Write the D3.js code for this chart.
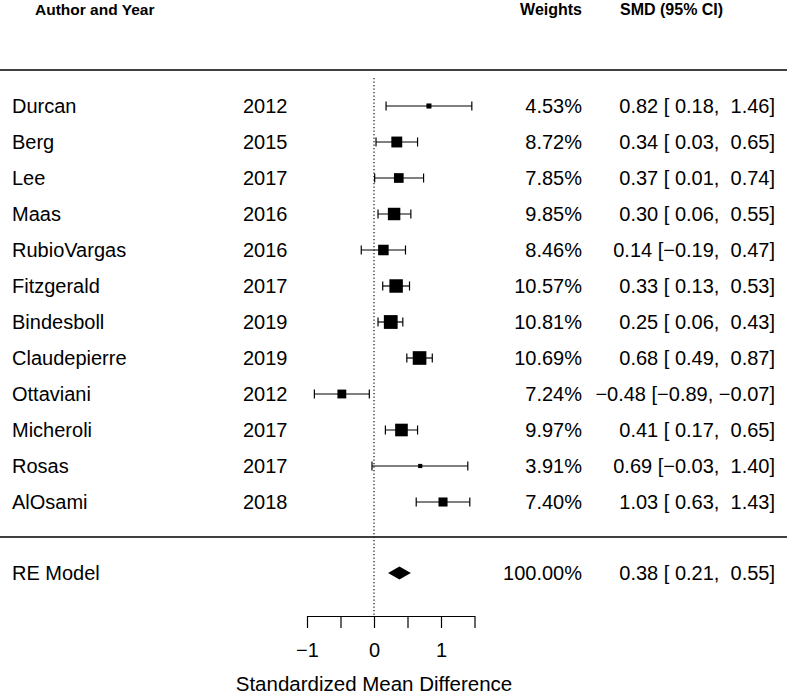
<!DOCTYPE html>
<html><head><meta charset="utf-8">
<script src="https://cdn.jsdelivr.net/npm/d3@7"></script>
<style>
body{margin:0;background:#fff;}
svg text{font-family:"Liberation Sans",Arial,Helvetica,sans-serif;fill:#000;white-space:pre;}
</style></head>
<body><svg id="c" width="787" height="696"></svg>
<script>
const authors = ["Durcan","Berg","Lee","Maas","RubioVargas","Fitzgerald","Bindesboll","Claudepierre","Ottaviani","Micheroli","Rosas","AlOsami"];
const years = [2012,2015,2017,2016,2016,2017,2019,2019,2012,2017,2017,2018];
const weights = [4.53,8.72,7.85,9.85,8.46,10.57,10.81,10.69,7.24,9.97,3.91,7.40];
const smd = [0.82,0.34,0.37,0.30,0.14,0.33,0.25,0.68,-0.48,0.41,0.69,1.03];
const ciLow = [0.18,0.03,0.01,0.06,-0.19,0.13,0.06,0.49,-0.89,0.17,-0.03,0.63];
const ciHigh = [1.46,0.65,0.74,0.55,0.47,0.53,0.43,0.87,-0.07,0.65,1.40,1.43];
const reModel = {label:"RE Model", weight:100.00, est:0.38, lb:0.21, ub:0.55};
const axisTicks = [-1,-0.5,0,0.5,1,1.5];
const axisLabels = [-1,0,1];
const headers = {left:"Author and Year", weights:"Weights", smd:"SMD (95% CI)"};
const xTitle = "Standardized Mean Difference";

const svg = d3.select("#c");
const x = d3.scaleLinear().domain([-1,1.5]).range([307,474.5]);
const y = d3.scaleLinear().domain([0,authors.length-1]).range([106,502]);
const sz = d3.scaleLinear().domain([d3.min(weights),d3.max(weights)]).range([4.2,13.8]);

const fmtNum = v => { const s = Math.abs(v).toFixed(2); return (v<0?"\u2212":" ")+s; };
const fmtCI = (e,l,u) => (e<0?"\u2212":"")+Math.abs(e).toFixed(2)+" ["+fmtNum(l)+", "+fmtNum(u)+"]";

// headers
svg.append("text").attr("x",35).attr("y",15).attr("font-size",15.5).attr("font-weight","bold").text(headers.left);
svg.append("text").attr("x",582).attr("y",15).attr("font-size",16).attr("font-weight","bold").attr("text-anchor","end").text(headers.weights);
svg.append("text").attr("x",620).attr("y",15).attr("font-size",16).attr("font-weight","bold").text(headers.smd);

// horizontal rules
[70,537].forEach(yy=>svg.append("line").attr("x1",0).attr("x2",787).attr("y1",yy).attr("y2",yy).attr("stroke","#000").attr("stroke-width",1.5));

// reference line
svg.append("line").attr("x1",x(0)).attr("x2",x(0)).attr("y1",78).attr("y2",616)
  .attr("stroke","#222").attr("stroke-width",1.3).attr("stroke-dasharray","1.3,2.2");

const idx = d3.range(authors.length);
const g = svg.append("g");
const rows = g.selectAll("g.row").data(idx).join("g").attr("class","row");
rows.append("text").attr("x",12).attr("y",i=>y(i)+7).attr("font-size",20).text(i=>authors[i]);
rows.append("text").attr("x",243).attr("y",i=>y(i)+7).attr("font-size",20).text(i=>years[i]);
rows.append("text").attr("x",582).attr("y",i=>y(i)+7).attr("font-size",20).attr("text-anchor","end").text(i=>weights[i].toFixed(2)+"%");
rows.append("text").attr("x",775).attr("y",i=>y(i)+7).attr("font-size",20).attr("text-anchor","end").text(i=>fmtCI(smd[i],ciLow[i],ciHigh[i]));
// CI lines
rows.append("line").attr("x1",i=>x(ciLow[i])).attr("x2",i=>x(ciHigh[i])).attr("y1",i=>y(i)).attr("y2",i=>y(i)).attr("stroke","#000").attr("stroke-width",1.2);
rows.append("line").attr("x1",i=>x(ciLow[i])).attr("x2",i=>x(ciLow[i])).attr("y1",i=>y(i)-4.5).attr("y2",i=>y(i)+4.5).attr("stroke","#000").attr("stroke-width",1.2);
rows.append("line").attr("x1",i=>x(ciHigh[i])).attr("x2",i=>x(ciHigh[i])).attr("y1",i=>y(i)-4.5).attr("y2",i=>y(i)+4.5).attr("stroke","#000").attr("stroke-width",1.2);
rows.append("rect").attr("x",i=>x(smd[i])-sz(weights[i])/2).attr("y",i=>y(i)-sz(weights[i])/2)
  .attr("width",i=>sz(weights[i])).attr("height",i=>sz(weights[i])).attr("fill","#000");

// RE model
const yRE = 573;
svg.append("text").attr("x",12).attr("y",yRE+7).attr("font-size",20).text(reModel.label);
svg.append("text").attr("x",582).attr("y",yRE+7).attr("font-size",20).attr("text-anchor","end").text(reModel.weight.toFixed(2)+"%");
svg.append("text").attr("x",775).attr("y",yRE+7).attr("font-size",20).attr("text-anchor","end").text(fmtCI(reModel.est,reModel.lb,reModel.ub));
svg.append("polygon").attr("points",[[x(reModel.lb),yRE],[x(reModel.est),yRE-6.5],[x(reModel.ub),yRE],[x(reModel.est),yRE+6.5]].map(p=>p.join(",")).join(" ")).attr("fill","#000");

// axis
const ax = svg.append("g").attr("transform","translate(0,616)")
  .call(d3.axisBottom(x).tickValues(axisTicks).tickSize(12).tickSizeOuter(0).tickFormat(d=>axisLabels.includes(d)?d3.format("")(d).replace("-","\u2212"):""));
ax.select(".domain").attr("stroke","#000").attr("stroke-width",1.2);
ax.selectAll(".tick line").attr("stroke","#000").attr("stroke-width",1.2);
ax.selectAll(".tick text").attr("font-size",20).attr("font-family","Liberation Sans, Arial, sans-serif").attr("fill","#000").attr("dy",null).attr("y",41);
svg.append("text").attr("x",x(0)).attr("y",691).attr("font-size",20.5).attr("text-anchor","middle").text(xTitle);
</script></body></html>
